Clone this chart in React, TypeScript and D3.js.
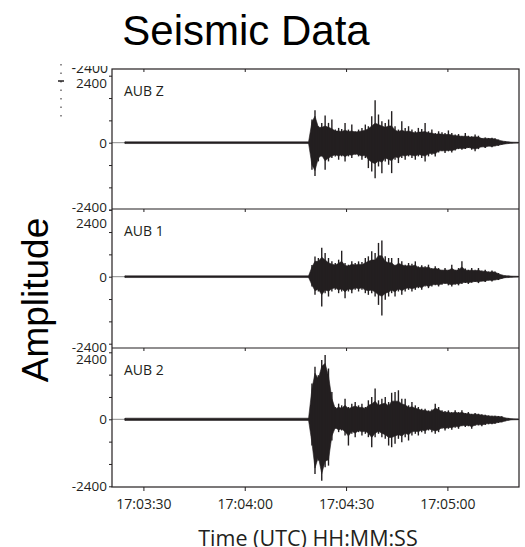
import React, { useEffect, useRef } from "react";
import * as d3 from "d3";

// ---------- text ----------
const TITLE = "Seismic Data";
const Y_TITLE = "Amplitude";
const X_TITLE = "Time (UTC) HH:MM:SS";
const STATIONS = ["AUB Z", "AUB 1", "AUB 2"];

// ---------- axes ----------
const TIME_DOMAIN = ["17:03:20.7", "17:05:21.2"];
const X_TICKS = ["17:03:30", "17:04:00", "17:04:30", "17:05:00"];
const REFERENCE_TIME = "17:04:00";
const Y_MAJOR_TICKS = [-2400, 0, 2400];
const Y_MINOR_TICKS = [-1600, -800, 800, 1600];

// ---------- data, seconds after 17:04:00 ----------
// *_UPPER / *_LOWER : peak excursions (spikes) above / below zero
// *_CORE_UP / *_CORE_LO : extent of the dense band of the trace
const SAMPLE_SECONDS = [
  -35.4,
  18.9, 19.9, 20.8, 21.8, 22.8, 23.8, 24.8, 25.8, 26.8, 27.8, 28.7,
  29.7, 30.7, 31.7, 32.7, 33.7, 34.7, 35.7, 36.6, 37.6, 38.6,
  39.6, 40.6, 41.6, 42.6, 43.5, 44.5, 45.5, 46.5, 47.5, 48.5,
  49.5, 50.5, 51.4, 52.4, 53.4, 54.4, 55.4, 56.4, 57.4, 58.4,
  59.3, 60.3, 61.3, 62.3, 63.3, 64.3, 65.3, 66.2, 67.2, 68.2,
  69.2, 70.2, 71.2, 72.2, 73.2, 74.1, 75.1, 76.1, 77.1, 78.1, 79.1,
  81.0,
];

const AUB_Z_UPPER = [
  30,
  30, 830, 1160, 590, 710, 970, 710, 830, 470, 530, 490,
  710, 470, 650, 410, 470, 530, 650, 590, 950, 1520,
  1010, 770, 710, 830, 1130, 590, 470, 770, 530, 590,
  470, 410, 530, 490, 710, 410, 470, 350, 410, 370,
  350, 440, 350, 290, 310, 250, 350, 250, 230, 290,
  250, 170, 190, 170, 180, 160, 110, 70, 50, 30, 20,
  15,
];
const AUB_Z_LOWER = [
  30,
  30, 970, 1190, 670, 490, 970, 670, 550, 490, 610, 490,
  670, 490, 550, 430, 490, 610, 550, 910, 1030, 1270,
  850, 1090, 670, 790, 1090, 610, 730, 550, 610, 490,
  550, 610, 490, 550, 670, 490, 430, 490, 350, 310,
  370, 310, 350, 280, 230, 250, 230, 190, 250, 310,
  230, 160, 190, 130, 160, 130, 110, 70, 50, 30, 20,
  15,
];
const AUB_Z_CORE_UP = [
  30,
  30, 750, 950, 550, 550, 600, 550, 500, 420, 420, 400,
  450, 400, 420, 380, 400, 420, 450, 500, 600, 700,
  650, 600, 550, 600, 600, 450, 400, 450, 400, 420,
  380, 350, 380, 380, 400, 350, 350, 300, 320, 300,
  290, 300, 280, 250, 250, 220, 240, 210, 200, 210,
  200, 150, 160, 150, 150, 130, 100, 60, 45, 30, 20,
  15,
];
const AUB_Z_CORE_LO = [
  30,
  30, 800, 1000, 550, 450, 650, 550, 480, 430, 480, 430,
  500, 430, 450, 400, 430, 480, 450, 600, 700, 750,
  650, 700, 550, 600, 650, 500, 550, 450, 480, 430,
  450, 480, 420, 450, 480, 400, 380, 400, 300, 280,
  300, 270, 290, 240, 200, 210, 200, 170, 200, 230,
  190, 140, 160, 120, 140, 110, 95, 60, 45, 30, 20,
  15,
];

const AUB_1_UPPER = [
  30,
  30, 420, 720, 670, 1040, 850, 670, 550, 490, 610, 930,
  490, 430, 550, 490, 550, 530, 670, 730, 910, 850,
  1210, 1300, 730, 670, 670, 430, 670, 550, 430, 490,
  460, 550, 370, 410, 370, 430, 310, 370, 310, 250,
  310, 250, 430, 250, 310, 550, 290, 250, 310, 250,
  310, 220, 250, 190, 220, 190, 130, 70, 40, 30, 20,
  15,
];
const AUB_1_LOWER = [
  30,
  30, 350, 650, 530, 1070, 590, 710, 530, 470, 590, 530,
  770, 530, 590, 470, 530, 470, 590, 650, 590, 710,
  1010, 1390, 830, 710, 590, 710, 530, 650, 530, 470,
  530, 470, 410, 470, 350, 410, 350, 310, 350, 290,
  260, 310, 350, 290, 310, 260, 230, 260, 220, 190,
  230, 170, 190, 140, 170, 130, 120, 70, 40, 30, 20,
  15,
];
const AUB_1_CORE_UP = [
  30,
  30, 350, 550, 550, 700, 600, 500, 450, 420, 480, 550,
  400, 380, 450, 420, 450, 430, 500, 550, 600, 600,
  750, 750, 550, 500, 500, 380, 480, 430, 380, 400,
  380, 420, 320, 350, 320, 350, 270, 300, 270, 220,
  250, 220, 300, 220, 250, 350, 240, 220, 240, 210,
  240, 190, 200, 160, 180, 160, 110, 60, 35, 30, 20,
  15,
];
const AUB_1_CORE_LO = [
  30,
  30, 300, 500, 450, 650, 480, 520, 430, 400, 480, 430,
  550, 430, 480, 400, 430, 400, 480, 500, 480, 550,
  650, 700, 600, 550, 480, 550, 430, 500, 430, 400,
  430, 400, 350, 400, 300, 350, 300, 270, 300, 250,
  230, 260, 290, 250, 260, 220, 200, 220, 190, 170,
  190, 150, 160, 120, 140, 110, 100, 60, 35, 30, 20,
  15,
];

const AUB_2_UPPER = [
  40,
  40, 1280, 1880, 1580, 2120, 2300, 1820, 980, 440, 560, 500,
  740, 440, 560, 620, 500, 560, 440, 680, 800, 1100,
  680, 740, 800, 620, 950, 980, 1040, 740, 740, 500,
  620, 500, 440, 380, 380, 320, 350, 560, 440, 320,
  300, 320, 260, 320, 260, 320, 230, 260, 200, 230,
  200, 180, 160, 140, 130, 130, 120, 110, 60, 40, 20,
  15,
];
const AUB_2_LOWER = [
  40,
  40, 940, 1960, 1480, 2200, 1720, 1660, 760, 340, 460, 400,
  580, 940, 520, 640, 460, 580, 520, 640, 1000, 640,
  520, 640, 700, 940, 1000, 880, 700, 820, 640, 760,
  580, 520, 580, 460, 520, 400, 460, 520, 460, 340,
  400, 340, 370, 300, 340, 250, 280, 250, 340, 230,
  220, 250, 200, 180, 180, 160, 130, 110, 70, 40, 20,
  15,
];
const AUB_2_CORE_UP = [
  40,
  40, 1100, 1650, 1450, 1900, 2000, 1550, 750, 380, 430, 400,
  500, 380, 430, 480, 420, 430, 380, 500, 550, 650,
  500, 550, 580, 480, 650, 650, 650, 550, 520, 420,
  450, 400, 370, 320, 320, 280, 300, 400, 350, 270,
  250, 260, 220, 260, 220, 250, 200, 210, 170, 190,
  170, 150, 140, 120, 110, 110, 100, 90, 50, 35, 20,
  15,
];
const AUB_2_CORE_LO = [
  40,
  40, 850, 1750, 1350, 1950, 1500, 1450, 600, 300, 380, 340,
  450, 600, 430, 500, 400, 450, 430, 500, 650, 500,
  430, 500, 550, 650, 650, 600, 550, 600, 500, 550,
  450, 430, 450, 380, 420, 340, 380, 420, 380, 290,
  330, 290, 300, 250, 280, 210, 230, 210, 270, 200,
  190, 200, 170, 150, 150, 140, 110, 95, 60, 35, 20,
  15,
];

// ---------- layout ----------
const W = 525;
const H = 547;
const PLOT_LEFT = 112;
const PLOT_RIGHT = 519;
const PANEL_TOPS = [69, 209, 348];
const PLOT_BOTTOM = 487;
const PANEL_ZERO = [142.7, 276.7, 419.3];
const HALF_SPAN = 67; // px for 2400 counts
const TOP_LABEL_NUDGE = [7, 13, 7];
const BOTTOM_LABEL_NUDGE = [-3, 3, 0];
const INK = "#231f20";
const LABEL_FONT = "'Open Sans', 'Noto Sans', sans-serif";
const TITLE_FONT = "'Liberation Sans', Arial, Helvetica, sans-serif";

function parseClock(s: string): Date {
  const [h, m, sec] = s.split(":");
  const ms = Math.round(parseFloat(sec) * 1000);
  return new Date(Date.UTC(2000, 0, 1, +h, +m, 0, ms));
}

type Sample = { t: Date; hi: number; lo: number; cu: number; cl: number };

export default function App() {
  const ref = useRef<SVGSVGElement>(null);

  useEffect(() => {
    const svg = d3.select(ref.current);
    svg.selectAll("*").remove();

    const x = d3
      .scaleUtc()
      .domain(TIME_DOMAIN.map(parseClock))
      .range([PLOT_LEFT, PLOT_RIGHT]);
    const refMs = parseClock(REFERENCE_TIME).getTime();
    const xTicks = X_TICKS.map(parseClock);
    const fmt = d3.utcFormat("%H:%M:%S");

    // Title
    svg
      .append("text")
      .attr("x", 246)
      .attr("y", 45)
      .attr("text-anchor", "middle")
      .attr("fill", "#000")
      .style("font-family", TITLE_FONT)
      .style("font-size", "42px")
      .text(TITLE);

    // Y title
    svg
      .append("text")
      .attr("transform", "translate(48,300) rotate(-90)")
      .attr("text-anchor", "middle")
      .attr("fill", "#000")
      .style("font-family", TITLE_FONT)
      .style("font-size", "37px")
      .text(Y_TITLE);

    // X title
    svg
      .append("text")
      .attr("x", 308)
      .attr("y", 546)
      .attr("text-anchor", "middle")
      .attr("fill", INK)
      .style("font-family", LABEL_FONT)
      .style("font-size", "21.5px")
      .text(X_TITLE);

    // clipped leftover label at top of first panel
    const defs = svg.append("defs");
    defs
      .append("clipPath")
      .attr("id", "topclip")
      .append("rect")
      .attr("x", 0)
      .attr("y", 66)
      .attr("width", PLOT_LEFT)
      .attr("height", 20);
    svg
      .append("text")
      .attr("x", 108)
      .attr("y", 72.5)
      .attr("text-anchor", "end")
      .attr("clip-path", "url(#topclip)")
      .attr("fill", INK)
      .style("font-family", LABEL_FONT)
      .style("font-size", "14px")
      .text("-2400");
    svg
      .append("line")
      .attr("x1", 61)
      .attr("x2", 61)
      .attr("y1", 64)
      .attr("y2", 120)
      .attr("stroke", INK)
      .attr("stroke-width", 1)
      .attr("stroke-dasharray", "1.5,7");
    svg
      .append("line")
      .attr("x1", 58)
      .attr("x2", 64)
      .attr("y1", 81)
      .attr("y2", 81)
      .attr("stroke", INK)
      .attr("stroke-width", 1.5);

    const panels = [
      { name: STATIONS[0], upper: AUB_Z_UPPER, lower: AUB_Z_LOWER, cu: AUB_Z_CORE_UP, cl: AUB_Z_CORE_LO },
      { name: STATIONS[1], upper: AUB_1_UPPER, lower: AUB_1_LOWER, cu: AUB_1_CORE_UP, cl: AUB_1_CORE_LO },
      { name: STATIONS[2], upper: AUB_2_UPPER, lower: AUB_2_LOWER, cu: AUB_2_CORE_UP, cl: AUB_2_CORE_LO },
    ];

    panels.forEach((p, i) => {
      const top = PANEL_TOPS[i];
      const zero = PANEL_ZERO[i];
      const y = d3
        .scaleLinear()
        .domain([-2400, 2400])
        .range([zero + HALF_SPAN, zero - HALF_SPAN]);

      // faint baseline across full width
      svg
        .append("line")
        .attr("x1", PLOT_LEFT)
        .attr("x2", PLOT_RIGHT)
        .attr("y1", y(0))
        .attr("y2", y(0))
        .attr("stroke", "#8a8a8a")
        .attr("stroke-width", 1);

      const data: Sample[] = SAMPLE_SECONDS.map((s, k) => ({
        t: new Date(refMs + s * 1000),
        hi: p.upper[k],
        lo: p.lower[k],
        cu: p.cu[k],
        cl: p.cl[k],
      }));

      // dense core of the trace
      const core = d3
        .area<Sample>()
        .x((d) => x(d.t))
        .y0((d) => y(-d.cl))
        .y1((d) => y(d.cu));
      svg
        .append("path")
        .attr("d", core(data))
        .attr("fill", INK)
        .attr("stroke", INK)
        .attr("stroke-width", 0.6)
        .attr("stroke-linejoin", "round");

      // peak excursions as thin spikes
      svg
        .append("g")
        .selectAll("line")
        .data(data)
        .join("line")
        .attr("x1", (d) => x(d.t))
        .attr("x2", (d) => x(d.t))
        .attr("y1", (d) => y(-d.lo))
        .attr("y2", (d) => y(d.hi))
        .attr("stroke", INK)
        .attr("stroke-width", 1.4);

      // ticks on the top edge of each panel (pointing inward)
      const gt = svg
        .append("g")
        .attr("transform", `translate(0,${top})`)
        .call(
          d3
            .axisBottom(x)
            .tickValues(xTicks)
            .tickSize(3)
            .tickSizeOuter(0)
            .tickFormat(() => "")
        );
      gt.select(".domain").remove();
      gt.selectAll("line").attr("stroke", INK);

      // y axis major
      const gy = svg
        .append("g")
        .attr("transform", `translate(${PLOT_LEFT},0)`)
        .call(
          d3
            .axisLeft(y)
            .tickValues(Y_MAJOR_TICKS)
            .tickSize(3)
            .tickSizeOuter(0)
            .tickPadding(2)
            .tickFormat((d) => String(d))
        );
      gy.select(".domain").remove();
      gy.selectAll("line").attr("stroke", INK);
      gy.selectAll<SVGTextElement, number>("text")
        .attr("fill", INK)
        .style("font-family", LABEL_FONT)
        .style("font-size", "13.5px")
        .attr("dy", "0.34em")
        .attr("transform", (d) =>
          d === 2400
            ? `translate(0,${TOP_LABEL_NUDGE[i]})`
            : d === -2400
            ? `translate(0,${BOTTOM_LABEL_NUDGE[i]})`
            : null
        );

      // y axis minor
      const gm = svg
        .append("g")
        .attr("transform", `translate(${PLOT_LEFT},0)`)
        .call(
          d3
            .axisLeft(y)
            .tickValues(Y_MINOR_TICKS)
            .tickSize(3)
            .tickSizeOuter(0)
            .tickFormat(() => "")
        );
      gm.select(".domain").remove();
      gm.selectAll("line").attr("stroke", INK);

      // station label
      svg
        .append("text")
        .attr("x", 124)
        .attr("y", top + 27)
        .attr("fill", INK)
        .style("font-family", LABEL_FONT)
        .style("font-size", "14px")
        .text(p.name);
    });

    // bottom time axis
    const gx = svg
      .append("g")
      .attr("transform", `translate(0,${PLOT_BOTTOM})`)
      .call(
        d3
          .axisBottom(x)
          .tickValues(xTicks)
          .tickSize(4)
          .tickSizeOuter(0)
          .tickPadding(8)
          .tickFormat((d) => fmt(d as Date))
      );
    gx.select(".domain").remove();
    gx.selectAll("line").attr("stroke", INK);
    gx.selectAll("text")
      .attr("fill", INK)
      .style("font-family", LABEL_FONT)
      .style("font-size", "14px");

    // panel frames
    svg
      .append("rect")
      .attr("x", PLOT_LEFT)
      .attr("y", PANEL_TOPS[0])
      .attr("width", PLOT_RIGHT - PLOT_LEFT)
      .attr("height", PLOT_BOTTOM - PANEL_TOPS[0])
      .attr("fill", "none")
      .attr("stroke", INK)
      .attr("stroke-width", 1.2);
    PANEL_TOPS.slice(1).forEach((t) => {
      svg
        .append("line")
        .attr("x1", PLOT_LEFT)
        .attr("x2", PLOT_RIGHT)
        .attr("y1", t)
        .attr("y2", t)
        .attr("stroke", INK)
        .attr("stroke-width", 1.2);
    });
  }, []);

  return (
    <svg
      ref={ref}
      width={W}
      height={H}
      style={{ position: "absolute", left: 0, top: 0, background: "#fff", display: "block" }}
    />
  );
}
